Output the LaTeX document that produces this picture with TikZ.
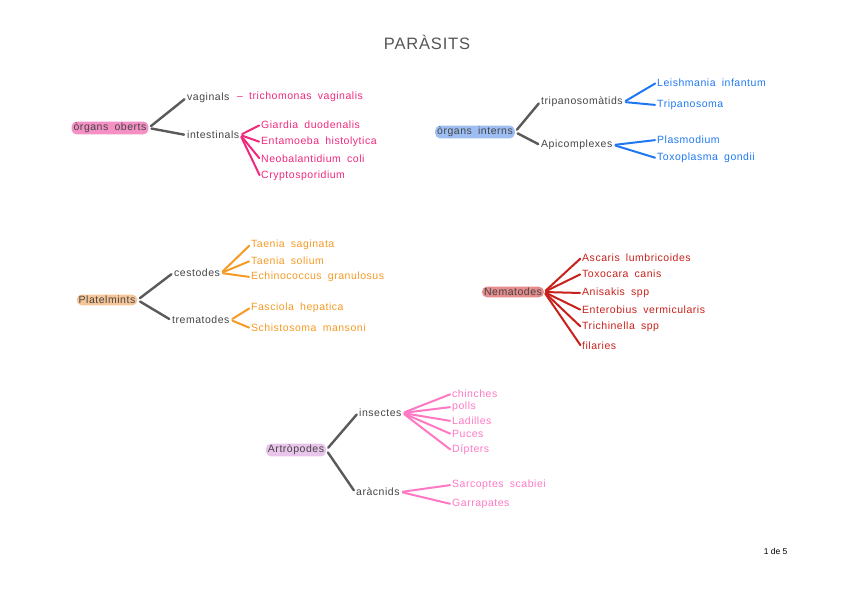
\documentclass[tikz,border=0pt]{standalone}
\usepackage{fontspec}
\setmainfont{Liberation Sans}[LetterSpace=5,WordSpace=1.8]
\newfontfamily\plainfont{Liberation Sans}

\definecolor{linegray}{HTML}{5A5A5A}
\definecolor{txtgray}{HTML}{454545}
\definecolor{titlegray}{HTML}{555555}
\definecolor{hotpink}{HTML}{F0287E}
\definecolor{pinkhl}{HTML}{F590C4}
\definecolor{skyblue}{HTML}{1F78F2}
\definecolor{bluehl}{HTML}{9DBEF2}
\definecolor{amber}{HTML}{F59A25}
\definecolor{amberhl}{HTML}{F7C698}
\definecolor{brickred}{HTML}{C8211B}
\definecolor{redhl}{HTML}{E58C8C}
\definecolor{candy}{HTML}{FF78C4}
\definecolor{lilachl}{HTML}{E9C5EC}

\tikzset{
  root/.style={rounded corners=5pt, inner xsep=2pt, inner ysep=1.5pt, text=txtgray},
  group/.style={anchor=west, inner sep=1pt, text=txtgray},
  leaf/.style={anchor=west, inner sep=1pt},
}

\begin{document}
\begin{tikzpicture}[x=1pt, y=-1pt, font=\fontsize{10.5}{12}\selectfont]
  \useasboundingbox (0,0) rectangle (848,599);

  \node[text=titlegray, font=\fontsize{16.5}{19}\selectfont] (title) at (427,42) {PARÀSITS};
  \node[anchor=east, font=\plainfont\fontsize{8.5}{10}\selectfont] (pagenum) at (791,551) {1 de 5};

  % roots
  \node[root, fill=pinkhl]  (oberts)  at (110,128) {òrgans oberts};
  \node[root, fill=bluehl]  (interns) at (475,132) {òrgans interns};
  \node[root, fill=amberhl] (platel)  at (107,300) {Platelmints};
  \node[root, fill=redhl]   (nemat)   at (513,292) {Nematodes};
  \node[root, fill=lilachl] (artro)   at (296,450) {Artròpodes};

  % groups
  \begin{scope}[every node/.style={group}]
    \node (vag)    at (186,98)  {vaginals};
    \node (intest) at (186,135) {intestinals};
    \node (tripa)  at (540,102) {tripanosomàtids};
    \node (apic)   at (540,145) {Apicomplexes};
    \node (cesto)  at (173,273) {cestodes};
    \node (trema)  at (171,320) {trematodes};
    \node (insec)  at (358,413) {insectes};
    \node (aracn)  at (355,492) {aràcnids};
  \end{scope}

  % leaves
  \begin{scope}[every node/.style={leaf, text=hotpink}]
    \node (trich)   at (236,97)  {– trichomonas vaginalis};
    \node (giardia) at (260,125) {Giardia duodenalis};
    \node (entam)   at (260,142) {Entamoeba histolytica};
    \node (neobal)  at (260,159) {Neobalantidium coli};
    \node (crypto)  at (260,176) {Cryptosporidium};
  \end{scope}

  \begin{scope}[every node/.style={leaf, text=skyblue}]
    \node (leish) at (656,83)  {Leishmania infantum};
    \node (tryp)  at (656,105) {Tripanosoma};
    \node (plasm) at (656,140) {Plasmodium};
    \node (toxop) at (656,158) {Toxoplasma gondii};
  \end{scope}

  \begin{scope}[every node/.style={leaf, text=amber}]
    \node (tsag)  at (250,245) {Taenia saginata};
    \node (tsol)  at (250,261) {Taenia solium};
    \node (echin) at (250,277) {Echinococcus granulosus};
    \node (fasc)  at (250,308) {Fasciola hepatica};
    \node (schis) at (250,328) {Schistosoma mansoni};
  \end{scope}

  \begin{scope}[every node/.style={leaf, text=brickred}]
    \node (ascar) at (581,258) {Ascaris lumbricoides};
    \node (toxoc) at (581,274) {Toxocara canis};
    \node (anis)  at (581,293) {Anisakis spp};
    \node (enter) at (581,310) {Enterobius vermicularis};
    \node (trich2) at (581,327) {Trichinella spp};
    \node (filar) at (581,346) {filaries};
  \end{scope}

  \begin{scope}[every node/.style={leaf, text=candy}]
    \node (chinch) at (451,394) {chinches};
    \node (polls)  at (451,407) {polls};
    \node (ladil)  at (451,421) {Ladilles};
    \node (puces)  at (451,434) {Puces};
    \node (dipt)   at (451,450) {Dípters};
    \node (sarco)  at (451,485) {Sarcoptes scabiei};
    \node (garra)  at (451,504) {Garrapates};
  \end{scope}

  % branches
  \begin{scope}[every edge/.style={draw=linegray, line width=2.4pt, line cap=round, shorten <=3pt, shorten >=2pt}]
    \path (oberts.east)  edge (vag.west);
    \path (oberts.east)  edge (intest.west);
    \path (interns.east) edge (tripa.west);
    \path (interns.east) edge (apic.west);
    \path (platel.east)  edge (cesto.west);
    \path (platel.east)  edge (trema.west);
    \path (artro.east)   edge (insec.west);
    \path (artro.east)   edge (aracn.west);
  \end{scope}

  \begin{scope}[every edge/.style={draw, line width=2pt, line cap=round, shorten <=2pt, shorten >=1pt}]
    \path[hotpink] (intest.east) edge (giardia.west);
    \path[hotpink] (intest.east) edge (entam.west);
    \path[hotpink] (intest.east) edge (neobal.west);
    \path[hotpink] (intest.east) edge (crypto.west);
    \path[skyblue] (tripa.east) edge (leish.west);
    \path[skyblue] (tripa.east) edge (tryp.west);
    \path[skyblue] (apic.east)  edge (plasm.west);
    \path[skyblue] (apic.east)  edge (toxop.west);
    \path[amber] (cesto.east) edge (tsag.west);
    \path[amber] (cesto.east) edge (tsol.west);
    \path[amber] (cesto.east) edge (echin.west);
    \path[amber] (trema.east) edge (fasc.west);
    \path[amber] (trema.east) edge (schis.west);
    \path[brickred] (nemat.east) edge (ascar.west);
    \path[brickred] (nemat.east) edge (toxoc.west);
    \path[brickred] (nemat.east) edge (anis.west);
    \path[brickred] (nemat.east) edge (enter.west);
    \path[brickred] (nemat.east) edge (trich2.west);
    \path[brickred] (nemat.east) edge (filar.west);
    \path[candy] (insec.east) edge (chinch.west);
    \path[candy] (insec.east) edge (polls.west);
    \path[candy] (insec.east) edge (ladil.west);
    \path[candy] (insec.east) edge (puces.west);
    \path[candy] (insec.east) edge (dipt.west);
    \path[candy] (aracn.east) edge (sarco.west);
    \path[candy] (aracn.east) edge (garra.west);
  \end{scope}

\end{tikzpicture}
\end{document}
